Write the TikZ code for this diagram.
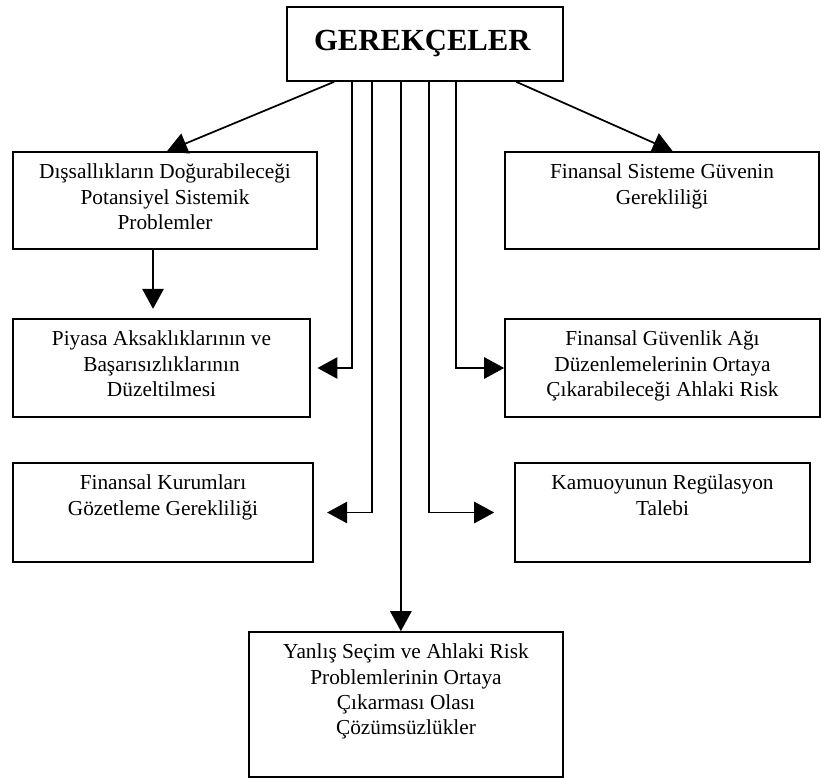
\documentclass[tikz,border=0pt]{standalone}
\usepackage{fontspec}
\setmainfont{Liberation Serif}
\usepackage{tikz}
\usetikzlibrary{arrows.meta, calc}
\newcommand{\gbox}[6]{% name, x, y, width, height, text  (box, text at top)
  \node[gbox, minimum width=#4, minimum height=#5] (#1) at (#2,#3) {};
  \node[glbl] (#1-t) at ([yshift=-9.5pt]#1.north) {#6};
}

\begin{document}
\begin{tikzpicture}[x=0.75pt, y=-0.75pt,
    gbox/.style={draw, line width=1.2pt, inner sep=0pt},
    glbl/.style={anchor=north, align=center, inner sep=0pt,
                 font=\fontsize{16}{19}\selectfont},
    garr/.style={-{Triangle[length=15pt, width=16pt]}, line width=1.3pt}]
  \useasboundingbox (0,0) rectangle (821,778);

  % top box
  \node[gbox, minimum width=207pt, minimum height=55.5pt,
        font=\fontsize{23}{27}\selectfont\bfseries] (top) at (425,44) {GEREKÇELER\hspace*{4pt}};

  % left column
  \gbox{dis}{165}{200.5}{228pt}{72.75pt}{Dışsallıkların Doğurabileceği\\Potansiyel Sistemik\\Problemler}
  \gbox{piy}{161.5}{368}{222.75pt}{73.5pt}{Piyasa Aksaklıklarının ve\\Başarısızlıklarının\\Düzeltilmesi}
  \gbox{gzt}{163}{512.5}{225pt}{74.25pt}{Finansal Kurumları\\Gözetleme Gerekliliği}

  % right column
  \gbox{guv}{662}{200.5}{235.5pt}{72.75pt}{Finansal Sisteme Güvenin\\Gerekliliği}
  \gbox{ahl}{662.5}{368}{236.25pt}{73.5pt}{Finansal Güvenlik Ağı\\Düzenlemelerinin Ortaya\\Çıkarabileceği Ahlaki Risk}
  \gbox{kam}{662.5}{512.5}{221.25pt}{74.25pt}{Kamuoyunun Regülasyon\\Talebi}

  % bottom box
  \gbox{yan}{406}{704.5}{235.5pt}{108.75pt}{Yanlış Seçim ve Ahlaki Risk\\Problemlerinin Ortaya\\Çıkarması Olası\\Çözümsüzlükler}

  % diagonals
  \draw[garr] ([xshift=36pt]top.south west) -- ([xshift=1.5pt]dis.north);
  \draw[garr] ([xshift=172.5pt]top.south west) -- ([xshift=8pt]guv.north);
  \draw[garr, shorten >=7pt] ([xshift=-9pt]dis.south) -- ([xshift=-9pt]dis.south |- piy.north);

  % elbows
  \draw[garr, shorten >=5pt] ([xshift=49.5pt]top.south west) |- (piy.east);
  \draw[garr, shorten >=10pt] ([xshift=64.5pt]top.south west) |- (gzt.east);
  \draw[garr] ([xshift=86pt]top.south west) -- ([xshift=86pt]top.south west |- yan.north);
  \draw[garr, shorten >=15pt] ([xshift=107pt]top.south west) |- (kam.west);
  \draw[garr] ([xshift=127.5pt]top.south west) |- (ahl.west);
\end{tikzpicture}
\end{document}
